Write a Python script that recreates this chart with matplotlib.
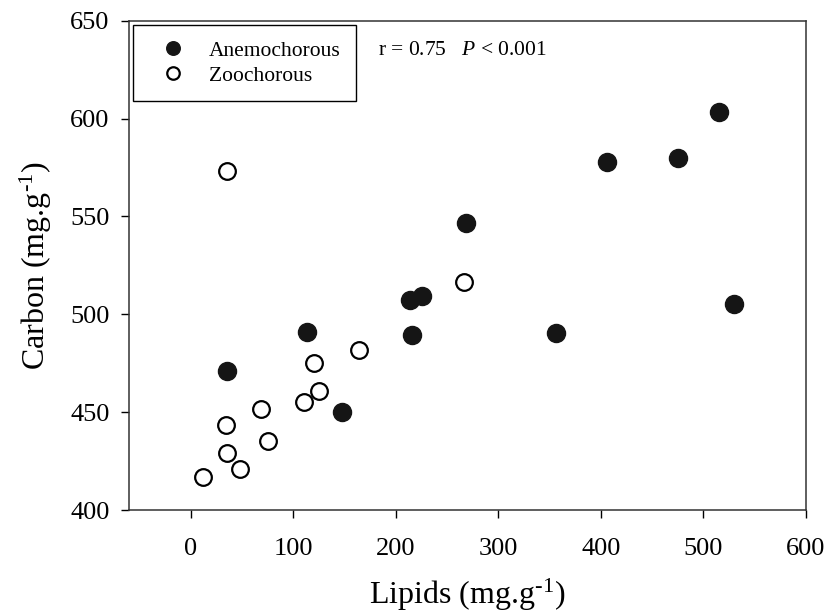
import matplotlib
matplotlib.use("Agg")
import matplotlib.pyplot as plt

# values
anemo_lipids = [35.1, 113.1, 148.0, 213.8, 225.3, 215.5, 268.5, 356.2, 406.3, 474.9, 515.2, 530.1]
anemo_carbon = [471.2, 491.0, 450.2, 507.3, 509.4, 489.4, 546.8, 490.6, 577.7, 580.0, 603.2, 505.3]

zoo_lipids = [35.6, 164.1, 120.5, 68.3, 34.4, 75.7, 35.1, 48.1, 11.7, 125.4, 110.5, 266.8]
zoo_carbon = [573.4, 481.8, 475.3, 451.8, 443.4, 435.1, 429.0, 420.9, 416.7, 461.0, 455.3, 516.7]

x_ticks = [0, 100, 200, 300, 400, 500, 600]
y_ticks = [400, 450, 500, 550, 600, 650]

plt.rcParams["font.family"] = ["Liberation Serif", "DejaVu Serif"]
plt.rcParams["mathtext.fontset"] = "custom"
plt.rcParams["mathtext.rm"] = "Liberation Serif"
plt.rcParams["mathtext.it"] = "Liberation Serif:italic"

fig = plt.figure(figsize=(8.28, 6.15), dpi=100)
ax = fig.add_axes([0.156, 0.1707, 0.8174, 0.7956])

ax.plot(anemo_lipids, anemo_carbon, "o", ms=13, color="#151515", mec="#151515",
        ls="none", label="Anemochorous", zorder=3)
ax.plot(zoo_lipids, zoo_carbon, "o", ms=12, mfc="white", mec="black", mew=1.6,
        ls="none", label="Zoochorous", zorder=3)

ax.set_xlim(-60, 600)
ax.set_ylim(400, 650)
ax.set_xticks(x_ticks)
ax.set_yticks(y_ticks)
ax.tick_params(direction="out", length=6, width=1, labelsize=19, pad=14,
               top=False, right=False)
ax.tick_params(axis="y", pad=8)
for s in ax.spines.values():
    s.set_linewidth(1.1)
    s.set_color("#333333")

ax.set_xlabel("Lipids (mg.g$^{\u2010 1}$)", fontsize=23, labelpad=12)
ax.set_ylabel("Carbon (mg.g$^{\u2010 1}$)", fontsize=23, labelpad=12)

leg = ax.legend(loc="upper left", bbox_to_anchor=(0.0055, 0.991), borderaxespad=0,
                fontsize=15.5, frameon=True, fancybox=False, edgecolor="black",
                framealpha=1, borderpad=0.72, handlelength=2.3, handletextpad=0.5,
                labelspacing=0.22, markerscale=0.75)
leg.get_frame().set_linewidth(1.0)

ax.text(0.3675, 0.940, "r = 0.75   $P$ < 0.001", transform=ax.transAxes,
        fontsize=15.5, va="center", ha="left")

fig.savefig("out.png", dpi=100)
